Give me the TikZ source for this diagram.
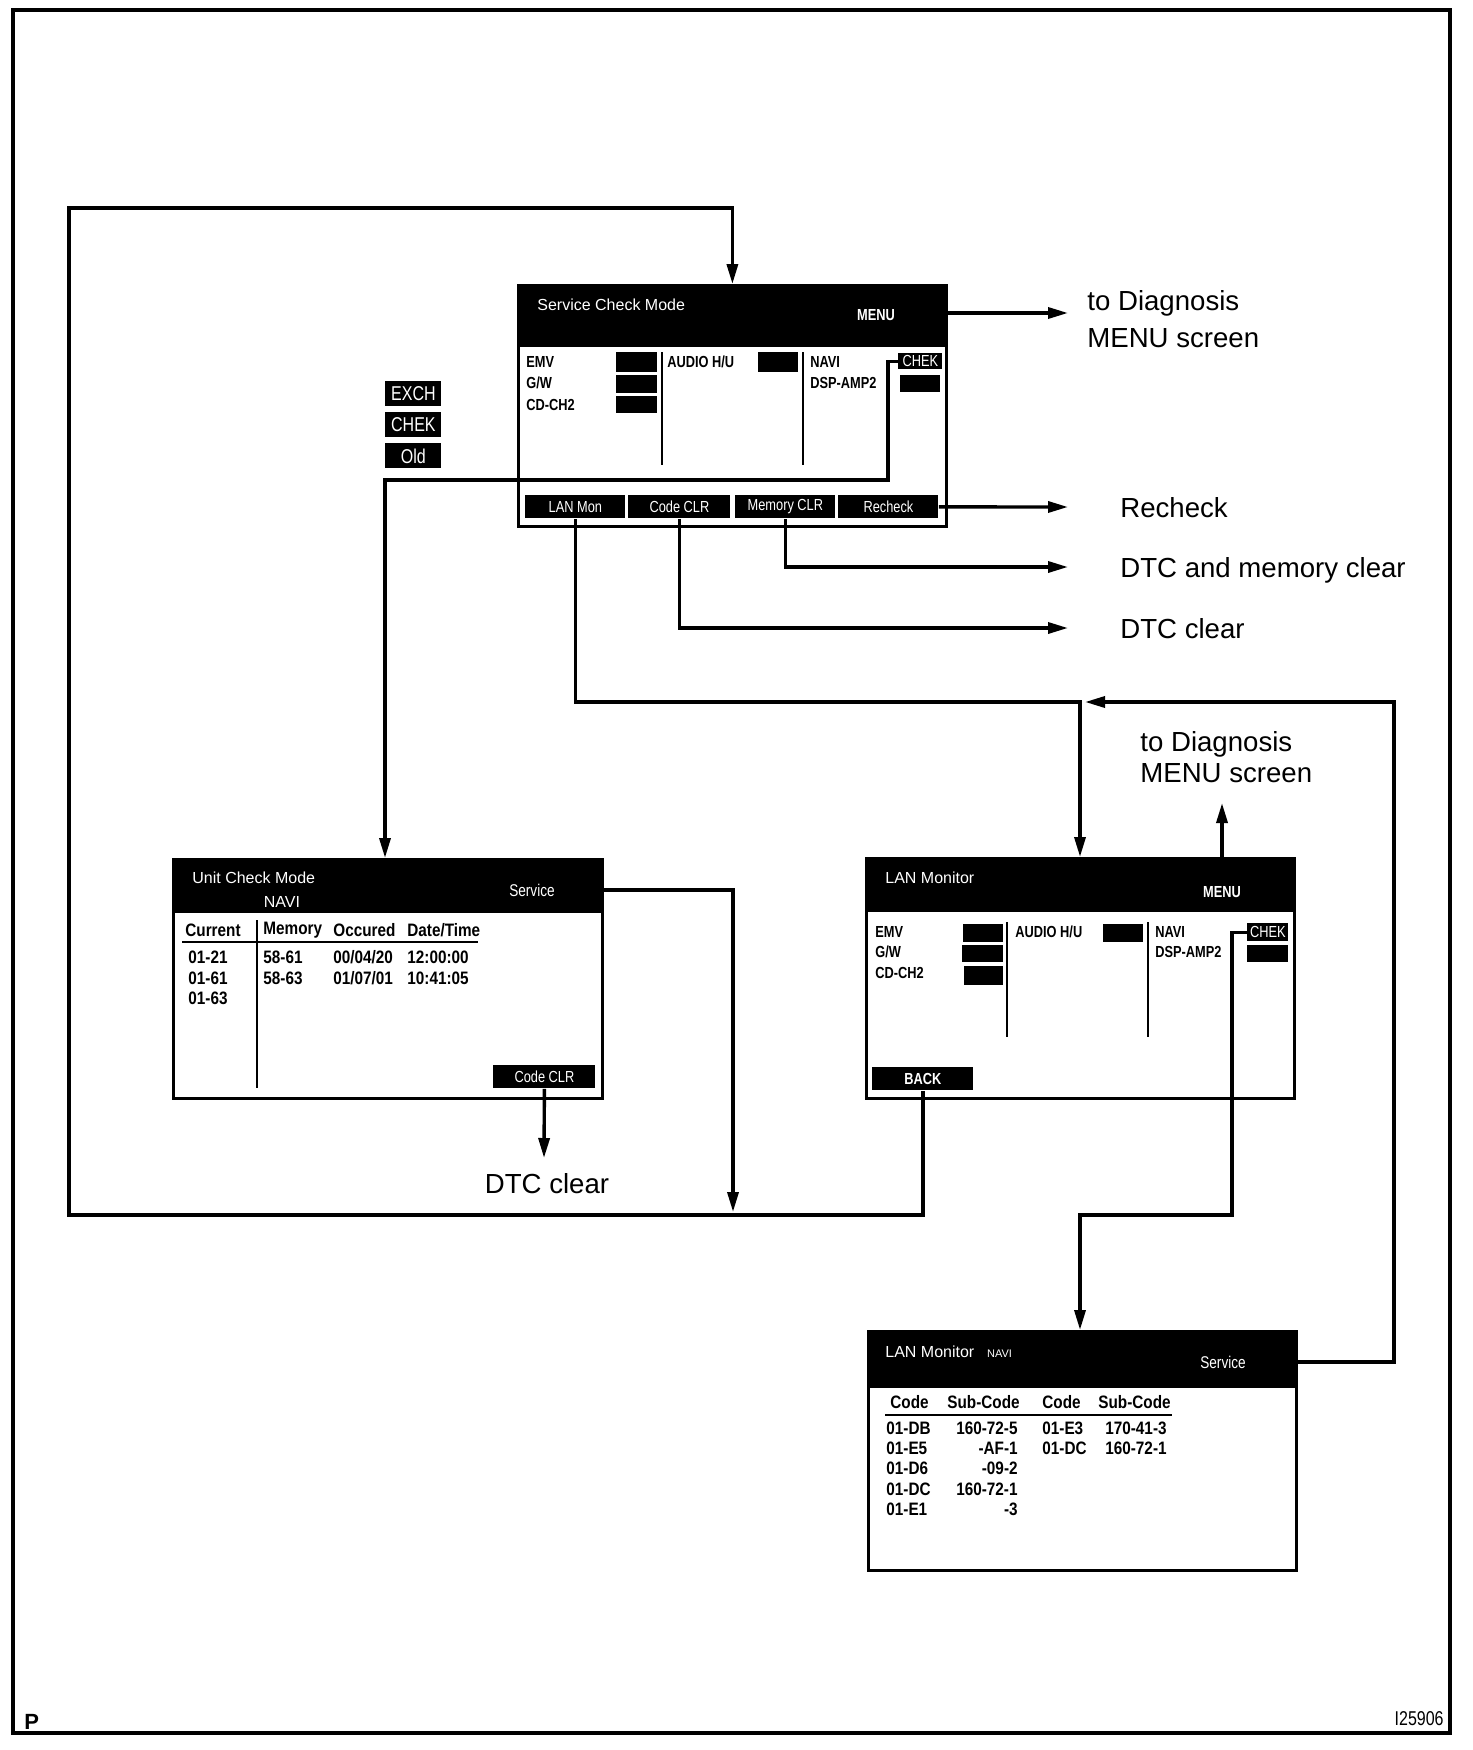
\documentclass[tikz,border=0pt]{standalone}
\usepackage{fontspec}
\setmainfont{Liberation Sans}
\newfontfamily\narrowfont[FakeStretch=0.8]{Liberation Sans}
\newfontfamily\tablefont[FakeStretch=0.85]{Liberation Sans}
\usetikzlibrary{arrows.meta}

\tikzset{
    screen/.style={draw, line width=1.4pt, fill=white, inner sep=0pt, anchor=north west},
    softkey/.style={fill=black, text=white, inner sep=0pt, anchor=north west,
        minimum height=11.5pt, font=\narrowfont\fontsize{8}{9}\selectfont},
    legendkey/.style={softkey, minimum width=28pt, minimum height=12.5pt,
        font=\narrowfont\fontsize{10}{11}\selectfont},
    heading/.style={text=white, inner sep=0pt, anchor=west, font=\fontsize{8}{9}\selectfont},
    entry/.style={inner sep=0pt, anchor=west, font=\narrowfont\bfseries\fontsize{8}{9}\selectfont},
    cell/.style={inner sep=0pt, anchor=west, font=\tablefont\bfseries\fontsize{9}{10}\selectfont},
    divider/.style={line width=1.2pt},
    flow/.style={line width=1.7pt, -{Triangle[length=10pt,width=5.5pt]}},
    note/.style={inner sep=0pt, align=left, font=\fontsize{13.8}{18.5}\selectfont},
}

\begin{document}
\begin{tikzpicture}[x=0.5pt, y=-0.5pt]
    \useasboundingbox (0,0) rectangle (1472,1750);

    % Outer frame
    \draw[line width=1.6pt] (13,10) rectangle (1450,1733);

    % Service Check Mode screen
    \node[screen, minimum width=214pt, minimum height=120.5pt] (scm) at (517,284) {};
    \fill (scm.north west) rectangle ++(428,63);
    \node[heading] (scmTitle) at (537,305) {Service Check Mode};
    \node[entry, text=white, anchor=center] (menu1) at (876,315) {MENU};
    \node[entry] at (526,362) {EMV};
    \node[entry] at (526,383) {G/W};
    \node[entry] at (526,405) {CD-CH2};
    \node[entry] at (667,362) {AUDIO H/U};
    \node[entry] at (810,362) {NAVI};
    \node[entry] at (810,383) {DSP-AMP2};
    \fill (616,352) rectangle (657,372);
    \fill (616,375) rectangle (657,393);
    \fill (616,396) rectangle (657,413);
    \fill (758,352) rectangle (798,372);
    \fill (900,375) rectangle (940,392);
    \draw[divider] (662,352) -- (662,465);
    \draw[divider] (803,352) -- (803,465);
    \node[softkey, minimum width=22pt, minimum height=8pt] (chek1) at (898,353) {CHEK};
    \node[softkey, minimum width=50pt] (lanmon) at (525,495) {LAN Mon};
    \node[softkey, minimum width=51pt] (codeclr) at (628,495) {Code CLR};
    \node[softkey, minimum width=50pt] (memclr) at (735,495) {Memory CLR};
    \node[softkey, minimum width=50pt] (recheck) at (838,495) {Recheck};

    % Legend keys
    \node[legendkey] (exch) at (385,381) {EXCH};
    \node[legendkey] (chekKey) at (385,412) {CHEK};
    \node[legendkey] (oldKey) at (385,443) {Old};

    % Unit Check Mode screen
    \node[screen, minimum width=214.5pt, minimum height=119.5pt] (ucm) at (172,858) {};
    \fill (ucm.north west) rectangle ++(429,55);
    \node[heading] (ucmTitle) at (192,878) {Unit Check Mode};
    \node[heading, anchor=center] (ucmNavi) at (282,902) {NAVI};
    \node[heading, anchor=center, font=\narrowfont\fontsize{8.5}{9}\selectfont] (svc1) at (532,890) {Service};
    \node[cell] at (185,930) {Current};
    \node[cell] at (263,930) {Memory};
    \node[cell] at (333,930) {Occured};
    \node[cell] at (407,930) {Date/Time};
    \draw[divider] (182,942) -- (478,942);
    \draw[divider] (257,920) -- (257,1088);
    \node[cell] at (188,957) {01-21};
    \node[cell] at (188,978) {01-61};
    \node[cell] at (188,998) {01-63};
    \node[cell] at (263,957) {58-61};
    \node[cell] at (263,978) {58-63};
    \node[cell] at (333,957) {00/04/20};
    \node[cell] at (333,978) {01/07/01};
    \node[cell] at (407,957) {12:00:00};
    \node[cell] at (407,978) {10:41:05};
    \node[softkey, minimum width=51pt] (codeclr2) at (493,1065) {Code CLR};

    % LAN Monitor screen
    \node[screen, minimum width=214pt, minimum height=120pt] (lm) at (865,857) {};
    \fill (lm.north west) rectangle ++(428,55);
    \node[heading] (lmTitle) at (885,878) {LAN Monitor};
    \node[entry, text=white, anchor=center] (menu2) at (1222,892) {MENU};
    \node[entry] at (875,932) {EMV};
    \node[entry] at (875,952) {G/W};
    \node[entry] at (875,973) {CD-CH2};
    \node[entry] at (1015,932) {AUDIO H/U};
    \node[entry] at (1155,932) {NAVI};
    \node[entry] at (1155,952) {DSP-AMP2};
    \fill (963,924) rectangle (1003,942);
    \fill (962,945) rectangle (1003,962);
    \fill (964,966) rectangle (1003,985);
    \fill (1103,924) rectangle (1143,942);
    \fill (1247,945) rectangle (1288,962);
    \draw[divider] (1007,922) -- (1007,1037);
    \draw[divider] (1148,922) -- (1148,1037);
    \node[softkey, minimum width=20.5pt, minimum height=9pt] (chek2) at (1247,923) {CHEK};
    \node[softkey, minimum width=50.5pt, font=\narrowfont\bfseries\fontsize{8}{9}\selectfont] (back) at (872,1067) {BACK};

    % LAN Monitor NAVI screen
    \node[screen, minimum width=214pt, minimum height=119.5pt] (lmn) at (867,1330) {};
    \fill (lmn.north west) rectangle ++(428,58);
    \node[heading] (lmnTitle) at (885,1352) {LAN Monitor};
    \node[heading, anchor=base west, font=\fontsize{5.5}{6}\selectfont] (lmnNavi) at ([xshift=6pt]lmnTitle.base east) {NAVI};
    \node[heading, anchor=center, font=\narrowfont\fontsize{8.5}{9}\selectfont] (svc2) at (1223,1362) {Service};
    \node[cell] at (890,1402) {Code};
    \node[cell] at (947,1402) {Sub-Code};
    \node[cell] at (1042,1402) {Code};
    \node[cell] at (1098,1402) {Sub-Code};
    \draw[divider] (885,1415) -- (1172,1415);
    \foreach \code/\sub [count=\i from 0] in {01-DB/160-72-5, 01-E5/-AF-1, 01-D6/-09-2, 01-DC/160-72-1, 01-E1/-3} {
        \node[cell] at (886,1428+20.3*\i) {\code};
        \node[cell, anchor=east] at (1018,1428+20.3*\i) {\sub};
    }
    \node[cell] at (1042,1428) {01-E3};
    \node[cell] at (1042,1448) {01-DC};
    \node[cell, anchor=east] at (1167,1428) {170-41-3};
    \node[cell, anchor=east] at (1167,1448) {160-72-1};

    % Texts beside the arrows
    \node[note, anchor=north west] (diag1) at (1087,290) {to Diagnosis\\MENU screen};
    \node[note, anchor=base west] (recheckTxt) at (1120,517) {Recheck};
    \node[note, anchor=base west] (dtcMemTxt) at (1120,577) {DTC and memory clear};
    \node[note, anchor=base west] (dtcTxt) at (1120,638) {DTC clear};
    \node[note, anchor=north west, font=\fontsize{13.8}{15.5}\selectfont] (diag2) at (1140,731) {to Diagnosis\\MENU screen};
    \node[note, anchor=base] (dtcTxt2) at (547,1193) {DTC clear};

    % Arrow ends and corners
    \coordinate (tipMenu) at (1068,313);
    \coordinate (tipRecheck) at (1068,507);
    \coordinate (tipMemClr) at (1068,567);
    \coordinate (tipCodeClr) at (1068,628);
    \coordinate (jLan) at (1080,702);
    \coordinate (rLoop) at (1394,702);
    \coordinate (tipDiag2) at (1222,803);
    \coordinate (jChek1) at (385,480);
    \coordinate (jChek2) at (1080,1215);
    \coordinate (tipDtc) at (544,1158);
    \coordinate (tipSvc) at (733,1212);
    \coordinate (bl) at (69,1215);
    \coordinate (tl) at (69,208);

    % Connectors from the Service Check Mode screen
    \draw[flow] (scm.east |- tipMenu) -- (tipMenu);
    \draw[flow] (recheck.east) -- (tipRecheck);
    \draw[flow] (memclr.south) |- (tipMemClr);
    \draw[flow] (codeclr.south) |- (tipCodeClr);
    \draw[flow] (lanmon.south) |- (jLan) -- (jLan |- lm.north);
    \draw[flow] (chek1.west) -- ++(-10,0) |- (jChek1) -- (jChek1 |- ucm.north);

    % Connectors from the other screens
    \draw[flow] (menu2 |- lm.north) -- (tipDiag2);
    \draw[flow] (chek2.west) -- ++(-15,0) |- (jChek2) -- (jChek2 |- lmn.north);
    \draw[flow] (svc2 -| lmn.east) -| (rLoop) -- ([xshift=2.5pt]jLan);
    \draw[flow] (codeclr2.south) -- (tipDtc);
    \draw[flow] (svc1 -| ucm.east) -| (tipSvc);
    \draw[flow] (back.south) |- (bl) -- (tl) -| (scm.north);

    % Figure marks
    \node[inner sep=0pt, anchor=west, font=\bfseries\fontsize{11}{12}\selectfont] (pMark) at (24,1722) {P};
    \node[inner sep=0pt, anchor=east, font=\narrowfont\fontsize{10}{11}\selectfont] (figNo) at (1444,1719) {I25906};
\end{tikzpicture}
\end{document}
